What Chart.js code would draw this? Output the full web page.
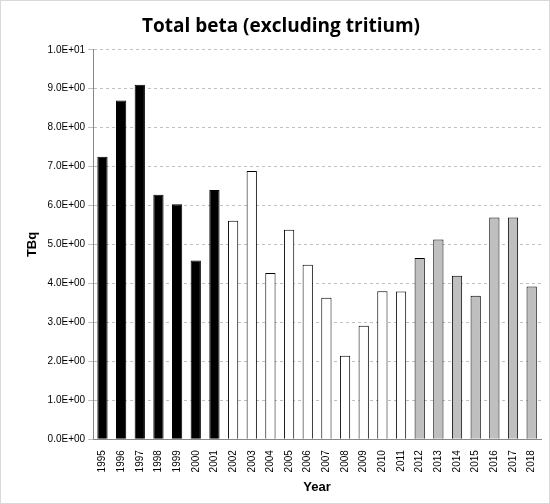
<!DOCTYPE html>
<html>
<head>
<meta charset="utf-8">
<script src="https://cdn.jsdelivr.net/npm/chart.js@4"></script>
<style>
  body { margin: 0; background: #fff; }
  #wrap { width: 548px; height: 502px; border: 1px solid #d9d9d9; }
</style>
</head>
<body>
<div id="wrap"><canvas id="chart" width="548" height="502"></canvas></div>
<script>
// values
const years = ['1995','1996','1997','1998','1999','2000','2001','2002','2003','2004','2005','2006',
               '2007','2008','2009','2010','2011','2012','2013','2014','2015','2016','2017','2018'];
const totalBeta = [7.25, 8.70, 9.10, 6.28, 6.03, 4.59, 6.40, 5.61, 6.89, 4.27, 5.38, 4.48,
                   3.63, 2.14, 2.91, 3.80, 3.79, 4.65, 5.13, 4.20, 3.68, 5.69, 5.69, 3.92];
const yTicks = [0, 1, 2, 3, 4, 5, 6, 7, 8, 9, 10];

const barColors = years.map(y => {
    const n = +y;
    if (n <= 2001) return '#000000';
    if (n <= 2011) return '#ffffff';
    return '#bfbfbf';
});

new Chart(document.getElementById('chart').getContext('2d'), {
    type: 'bar',
    data: {
        labels: years,
        datasets: [{
            data: totalBeta,
            backgroundColor: barColors,
            borderColor: '#000000',
            borderWidth: 1,
            categoryPercentage: 0.55,
            barPercentage: 1
        }]
    },
    options: {
        responsive: false,
        animation: false,
        layout: { padding: { left: 20, right: 8, top: 4, bottom: 4 } },
        plugins: {
            legend: { display: false },
            tooltip: { enabled: false },
            title: {
                display: true,
                text: 'Total beta (excluding tritium)',
                color: '#000',
                font: { family: 'Open Sans', size: 19, weight: 'bold' },
                padding: { top: 10, bottom: 12 }
            }
        },
        scales: {
            x: {
                grid: { display: false },
                border: { color: '#888' },
                ticks: {
                    color: '#000', minRotation: 90, maxRotation: 90, autoSkip: false,
                    font: { family: 'Liberation Sans', size: 10 }
                },
                title: {
                    display: true, text: 'Year', color: '#000',
                    font: { family: 'Liberation Sans', size: 13, weight: 'bold' }
                }
            },
            y: {
                min: 0, max: 10,
                afterBuildTicks: axis => { axis.ticks = yTicks.map(v => ({ value: v })); },
                grid: { color: '#c0c0c0', tickLength: 5, drawTicks: true },
                border: { color: '#888', dash: [3, 3] },
                ticks: {
                    color: '#000',
                    font: { family: 'Liberation Sans', size: 10 },
                    callback: v => Number(v).toExponential(1).replace('e+', 'E+0').replace('E+010', 'E+01')
                },
                title: {
                    display: true, text: 'TBq', color: '#000',
                    font: { family: 'Liberation Sans', size: 13, weight: 'bold' }
                }
            }
        }
    }
});
</script>
</body>
</html>
